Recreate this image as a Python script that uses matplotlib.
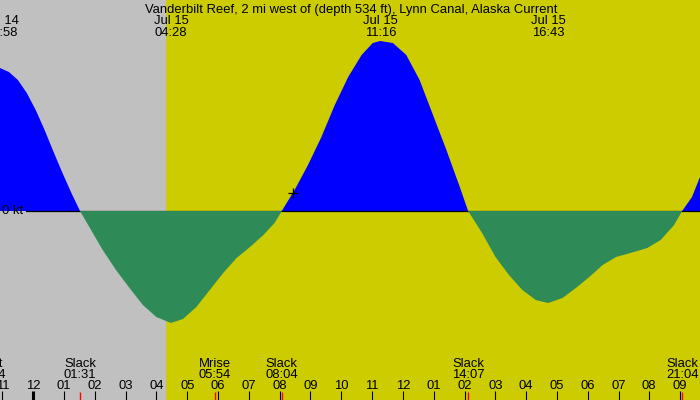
import matplotlib
matplotlib.use("Agg")
import matplotlib.pyplot as plt

plt.rcParams['font.family'] = ['Liberation Sans', 'DejaVu Sans']

# hours after midnight Jul 15 and current speed (kt, + = flood)
hours = [-1.081, -0.792, -0.500, -0.211, 0.078, 0.367, 0.659, 0.948, 1.237, 1.517,
         1.818, 2.253, 2.685, 3.123, 3.558, 3.994, 4.467, 4.860, 5.295, 5.731,
         6.166, 6.601, 7.036, 7.471, 7.834, 8.067, 8.484, 8.919, 9.354, 9.789,
         10.224, 10.659, 11.023, 11.267, 11.675, 12.110, 12.542, 12.977, 13.412, 13.847,
         14.117, 14.571, 15.006, 15.442, 15.877, 16.312, 16.717, 17.182, 17.617, 18.052,
         18.487, 18.922, 19.500, 19.935, 20.370, 20.805, 21.067, 21.386, 21.646]
speed = [1.43, 1.39, 1.31, 1.18, 1.01, 0.81, 0.59, 0.38, 0.18, 0.0,
         -0.16, -0.39, -0.59, -0.77, -0.94, -1.06, -1.12, -1.08, -0.96, -0.79,
         -0.62, -0.47, -0.36, -0.24, -0.12, 0.0, 0.21, 0.46, 0.74, 1.06,
         1.34, 1.56, 1.68, 1.70, 1.68, 1.56, 1.31, 0.96, 0.61, 0.24,
         0.0, -0.22, -0.46, -0.64, -0.79, -0.89, -0.92, -0.87, -0.77, -0.66,
         -0.54, -0.46, -0.41, -0.37, -0.29, -0.14, 0.0, 0.14, 0.34]

tick_hours = list(range(-1, 22))
tick_labels = ["%02d" % ((h % 12) or 12) for h in tick_hours]

event_names = ["Mset", "Slack", "Mrise", "Slack", "Slack", "Slack"]
event_times = ["22:34", "01:31", "05:54", "08:04", "14:07", "21:04"]
event_hours = [-1.43, 1.517, 5.9, 8.067, 14.117, 21.067]

peak_dates = ["Jul 14", "Jul 15", "Jul 15", "Jul 15"]
peak_times = ["22:58", "04:28", "11:16", "16:43"]
peak_hours = [-1.033, 4.467, 11.267, 16.717]

sunrise = 4.28
now_hour, now_speed = 8.44, 0.18

title = "Vanderbilt Reef, 2 mi west of (depth 534 ft), Lynn Canal, Alaska Current"
fs = 9.4

fig = plt.figure(figsize=(7, 4), dpi=100)
ax = fig.add_axes([0, 0, 1, 1])
ax.set_facecolor('#CCCC00')
ax.set_xlim(-1.081, 21.646)
ax.set_ylim(-1.89, 2.11)
for s in ax.spines.values():
    s.set_visible(False)

ax.axvspan(-2, sunrise, color='#C0C0C0', zorder=0)

ax.fill_between(hours, speed, 0, where=[v >= 0 for v in speed],
                interpolate=True, color='#0000FF', lw=0, zorder=1)
ax.axhline(0, xmin=26 / 700, color='black', lw=0.9, zorder=2)
ax.fill_between(hours, speed, 0, where=[v <= 0 for v in speed],
                interpolate=True, color='#2E8B57', lw=0, zorder=3)
ax.plot([now_hour], [now_speed], marker='+', color='black', ms=7.5, mew=0.9, zorder=4)

ax.text(2 / 700, 0, "0 kt", transform=ax.get_yaxis_transform(), ha='left',
        va='center', fontsize=fs, zorder=5)

# hour ticks
ax.set_yticks([])
ax.set_xticks(tick_hours)
ax.set_xticklabels(tick_labels, fontsize=fs)
ax.tick_params(axis='x', direction='in', length=6.2, width=0.8, pad=-14.3, color='black')
for t, h in zip(ax.xaxis.get_major_ticks(), tick_hours):
    if h == 0:
        t.tick1line.set_markeredgewidth(2.2)

ax.vlines(event_hours, 0, 8.5 / 400, transform=ax.get_xaxis_transform(),
          color='red', lw=1.0, zorder=6)

xt = ax.get_xaxis_transform()
for name, tm, h in zip(event_names, event_times, event_hours):
    ax.text(h, 1 - 367 / 400, name, transform=xt, ha='center', va='baseline', fontsize=fs)
    ax.text(h, 1 - 378.5 / 400, tm, transform=xt, ha='center', va='baseline', fontsize=fs)

for d, tm, h in zip(peak_dates, peak_times, peak_hours):
    ax.text(h, 1 - 24 / 400, d, transform=xt, ha='center', va='baseline', fontsize=fs)
    ax.text(h, 1 - 36 / 400, tm, transform=xt, ha='center', va='baseline', fontsize=fs)

ax.text(351 / 700, 1 - 12.5 / 400, title, transform=ax.transAxes, ha='center',
        va='baseline', fontsize=fs)

fig.savefig("out.png", dpi=100)
